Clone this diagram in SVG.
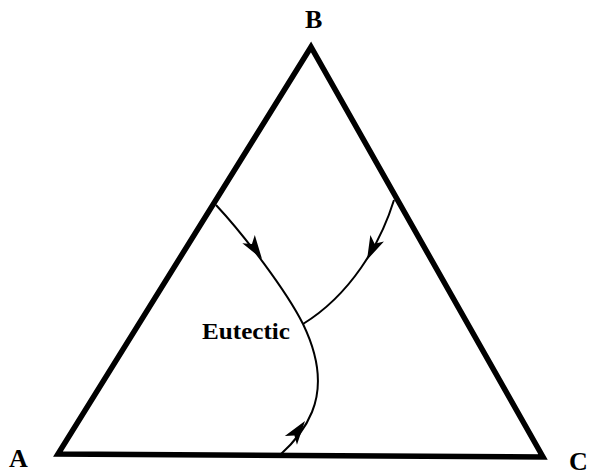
<svg xmlns="http://www.w3.org/2000/svg" xmlns:xlink="http://www.w3.org/1999/xlink" width="592" height="475" viewBox="0 0 592 475">
  <style>
    .frame { fill: none; stroke: #000; stroke-width: 5.5; stroke-linejoin: miter; }
    .curve { fill: none; stroke: #000; stroke-width: 2; }
    .lbl { font-family: "Liberation Serif", "Times New Roman", serif; font-weight: bold; fill: #000; }
    .corner { font-size: 26px; }
    .eut { font-size: 24px; }
  </style>
  <defs>
    <path id="ah" d="M0,0 L-24,-7.5 L-18,0 L-24,7.5 Z" fill="#000"/>
  </defs>
  <rect width="592" height="475" fill="#fff"/>
  <g id="triangle">
    <polygon class="frame" points="58,454 311,47 543,457"/>
  </g>
  <g id="connectors">
    <path class="curve" d="M216,205 C245,236 287,292 303,324 C318,355 323,385 312,412 C304,432 290,446 280,455"/>
    <path class="curve" d="M394,200 C380,245 350,295 303,324"/>
    <use xlink:href="#ah" transform="translate(262,259) rotate(56)"/>
    <use xlink:href="#ah" transform="translate(367,260) rotate(115)"/>
    <use xlink:href="#ah" transform="translate(305,421) rotate(-54)"/>
  </g>
  <g id="node-A"><text class="lbl corner" x="9" y="467">A</text></g>
  <g id="node-B"><text class="lbl corner" x="305" y="28">B</text></g>
  <g id="node-C"><text class="lbl corner" x="569" y="470">C</text></g>
  <g id="node-eutectic"><text class="lbl eut" x="202" y="339" textLength="88" lengthAdjust="spacingAndGlyphs">Eutectic</text></g>
</svg>
